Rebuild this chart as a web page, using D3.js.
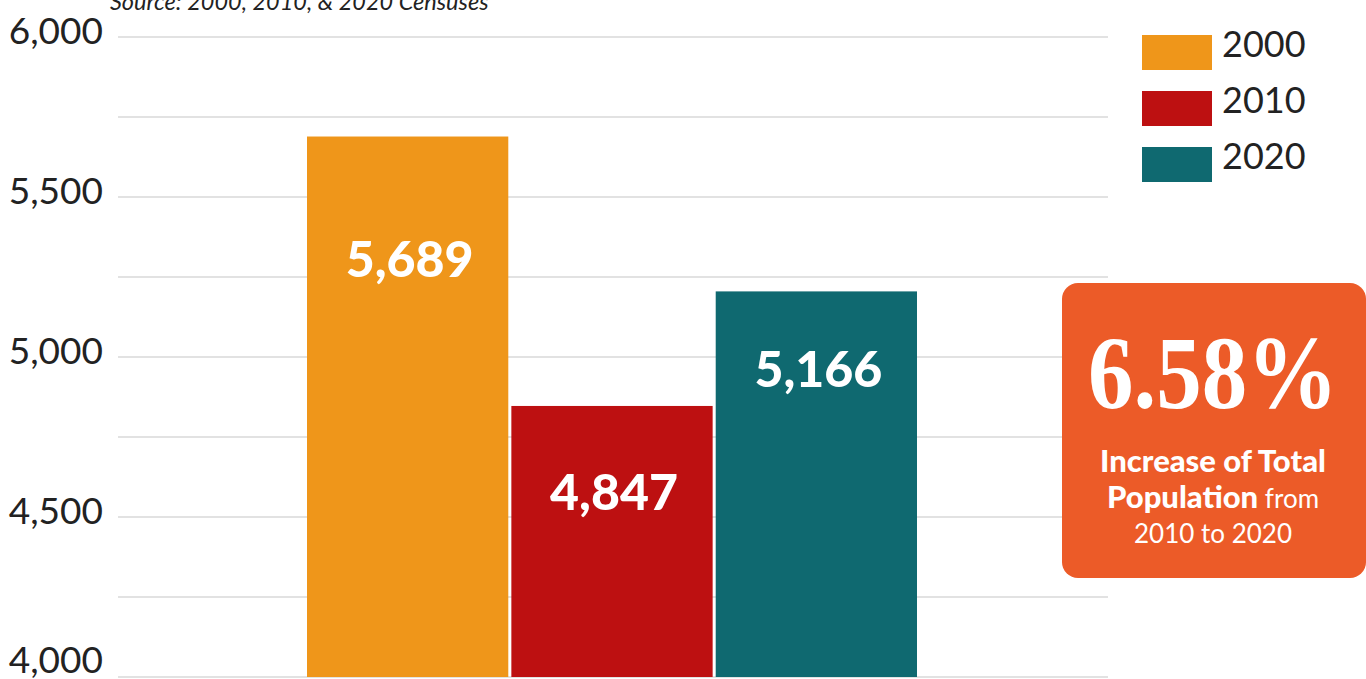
<!DOCTYPE html>
<html>
<head>
<meta charset="utf-8">
<script src="https://cdn.jsdelivr.net/npm/d3@7"></script>
<style>
  html, body { margin: 0; padding: 0; background: #fff; overflow: hidden; }
  text { font-family: Lato, "Open Sans", sans-serif; }
</style>
</head>
<body>
<div id="chart"></div>
<script>
// Data
const years = ['2000', '2010', '2020'];
const barValues = [5689, 4847, 5205];
const labelValues = [5689, 4847, 5166];
const colors = ['#EF961A', '#BD1011', '#0F6970'];
const yTicks = [4000, 4500, 5000, 5500, 6000];
const gridTicks = [4000, 4250, 4500, 4750, 5000, 5250, 5500, 5750, 6000];
const calloutValue = '6.58%';

const width = 1366;
const height = 679;

const svg = d3.select('#chart')
  .append('svg')
  .attr('width', width)
  .attr('height', height);

// Scales
const x = d3.scaleBand()
  .domain(years)
  .range([307, 917])
  .paddingInner(0.015);

const y = d3.scaleLinear()
  .domain([4000, 6000])
  .range([677, 37]);

// Gridlines
svg.append('g')
  .selectAll('line')
  .data(gridTicks)
  .enter()
  .append('line')
  .attr('x1', 118)
  .attr('x2', 1108)
  .attr('y1', d => y(d))
  .attr('y2', d => y(d))
  .attr('stroke', '#e2e2e2')
  .attr('stroke-width', 2);

// Y axis labels
svg.append('g')
  .attr('transform', 'translate(103,0)')
  .call(d3.axisLeft(y).tickValues(yTicks).tickSize(0).tickPadding(0).tickFormat(d3.format(',')))
  .call(g => g.select('.domain').remove())
  .selectAll('text')
  .attr('dy', d => d === 4000 ? -5 : 6)
  .attr('fill', '#222')
  .style('font-size', '37px')
  .style('font-family', 'Lato, sans-serif');

// Source note
svg.append('text')
  .attr('x', 110)
  .attr('y', 10)
  .style('font-size', '23.5px')
  .style('font-style', 'italic')
  .attr('fill', '#222')
  .text('Source: 2000, 2010, & 2020 Censuses');

// Bars
svg.selectAll('.bar')
  .data(years)
  .enter()
  .append('rect')
  .attr('class', 'bar')
  .attr('x', d => x(d))
  .attr('width', x.bandwidth())
  .attr('y', (d, i) => y(barValues[i]))
  .attr('height', (d, i) => y(4000) - y(barValues[i]))
  .attr('fill', (d, i) => colors[i]);

// Bar labels
const labelDy = [140, 104, 96];
svg.selectAll('.bar-label')
  .data(years)
  .enter()
  .append('text')
  .attr('class', 'bar-label')
  .attr('x', d => x(d) + x.bandwidth() / 2 + 2)
  .attr('y', (d, i) => y(barValues[i]) + labelDy[i])
  .attr('text-anchor', 'middle')
  .attr('fill', '#fff')
  .style('font-size', '50px')
  .style('font-weight', '900')
  .text((d, i) => d3.format(',')(labelValues[i]));

// Legend
const legend = svg.append('g')
  .selectAll('g')
  .data(years)
  .enter()
  .append('g')
  .attr('transform', (d, i) => `translate(1142,${35 + i * 56})`);

legend.append('rect')
  .attr('width', 70)
  .attr('height', 35)
  .attr('fill', (d, i) => colors[i]);

legend.append('text')
  .attr('x', 80)
  .attr('y', 22)
  .attr('fill', '#222')
  .style('font-size', '36px')
  .text(d => d);

// Callout
const callout = svg.append('g');
callout.append('rect')
  .attr('x', 1062)
  .attr('y', 283)
  .attr('width', 304)
  .attr('height', 295)
  .attr('rx', 16)
  .attr('fill', '#EC5B28');

callout.append('text')
  .attr('x', 1213)
  .attr('y', 408)
  .attr('text-anchor', 'middle')
  .attr('fill', '#fff')
  .attr('textLength', 250)
  .attr('lengthAdjust', 'spacingAndGlyphs')
  .style('font-family', '"Liberation Serif", "DejaVu Serif", serif')
  .style('font-weight', 'bold')
  .style('font-size', '104px')
  .text(calloutValue);

const note = callout.append('text')
  .attr('text-anchor', 'middle')
  .attr('fill', '#fff')
  .style('font-size', '26px');

note.append('tspan')
  .attr('x', 1213)
  .attr('y', 472)
  .style('font-weight', '900')
  .style('font-size', '31px')
  .text('Increase of Total');

const line2 = note.append('tspan')
  .attr('x', 1213)
  .attr('y', 508);
line2.append('tspan').style('font-weight', '900').style('font-size', '31px').text('Population');
line2.append('tspan').text(' from');

note.append('tspan')
  .attr('x', 1213)
  .attr('y', 543)
  .text('2010 to 2020');
</script>
</body>
</html>
